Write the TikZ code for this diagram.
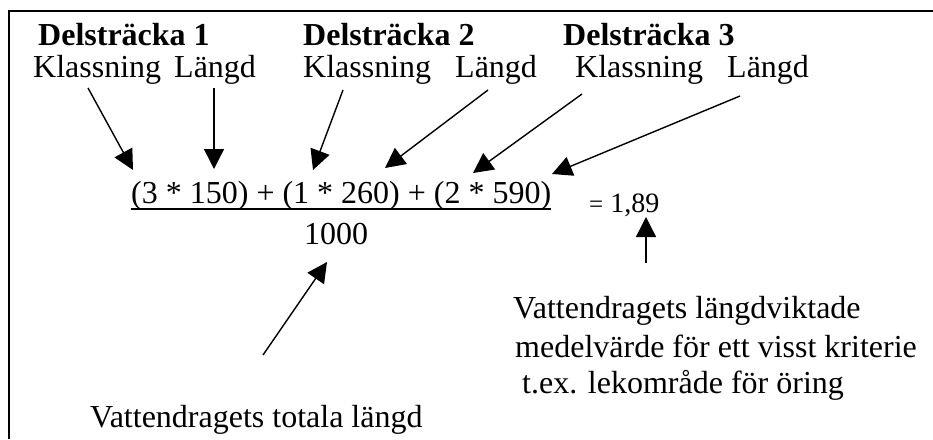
\documentclass[tikz,border=0pt]{standalone}
\usepackage{fontspec}
\setmainfont{Liberation Serif}
\usetikzlibrary{arrows.meta}
\begin{document}
\begin{tikzpicture}[x=1pt,y=-1pt,
  txt/.style={inner sep=0pt,anchor=base west,font=\fontsize{32}{38}\selectfont},
  hdr/.style={txt,font=\fontsize{32}{38}\selectfont\bfseries},
  arr/.style={line width=1.4pt,-{Triangle[length=20pt,width=20pt]}}]
\useasboundingbox (0,0) rectangle (933,439);
\draw[line width=1.8pt] (9,439) -- (9,11) -- (933,11);
% headers
\node[hdr] (d1) at (38,45) {Delsträcka 1};
\node[hdr] (d2) at (303,45) {Delsträcka 2};
\node[hdr] (d3) at (563,45) {Delsträcka 3};
% labels
\node[txt] (k1) at (33,77) {Klassning};
\node[txt] (l1) at (174,77) {Längd};
\node[txt] (k2) at (303,77) {Klassning};
\node[txt] (l2) at (455,77) {Längd};
\node[txt] (k3) at (575,77) {Klassning};
\node[txt] (l3) at (727,77) {Längd};
% formula
\node[txt] (num) at (131,203) {(3 * 150) + (1 * 260) + (2 * 590)};
\path (num.base west) ++(0,6) coordinate (ua);
\path (num.base east) ++(0,6) coordinate (ub);
\draw[line width=1.4pt] (ua) -- (ub);
\node[txt] (den) at (304,244) {1000};
\node[inner sep=0pt,anchor=base west] (res) at (589,212) {\fontsize{25}{30}\selectfont=\hspace{7pt}\fontsize{28}{34}\selectfont1,89};
% bottom texts
\node[txt] (tot) at (90,427) {Vattendragets totala längd};
\node[txt] (r1) at (513,318) {Vattendragets längdviktade};
\node[txt] (r2) at (515,357) {medelvärde för ett visst kriterie};
\node[txt] (r3) at (522,393) {t.ex. lekområde för öring};
% arrow coordinates
\coordinate (a1s) at (88,88);   \coordinate (a1e) at (133,170);
\coordinate (a2s) at (214,88);  \coordinate (a2e) at (214,169);
\coordinate (a3s) at (343,90);  \coordinate (a3e) at (313,170);
\coordinate (a4s) at (488,90);  \coordinate (a4e) at (385,168);
\coordinate (a5s) at (582,94);  \coordinate (a5e) at (473,173);
\coordinate (a6s) at (740,96);  \coordinate (a6e) at (552,174);
\coordinate (a7s) at (263,355); \coordinate (a7e) at (327,262);
\coordinate (a8s) at (646,263); \coordinate (a8e) at (646,217);
\draw[arr] (a1s) -- (a1e);
\draw[arr] (a2s) -- (a2e);
\draw[arr] (a3s) -- (a3e);
\draw[arr] (a4s) -- (a4e);
\draw[arr] (a5s) -- (a5e);
\draw[arr] (a6s) -- (a6e);
\draw[arr] (a7s) -- (a7e);
\draw[arr] (a8s) -- (a8e);
\end{tikzpicture}
\end{document}
